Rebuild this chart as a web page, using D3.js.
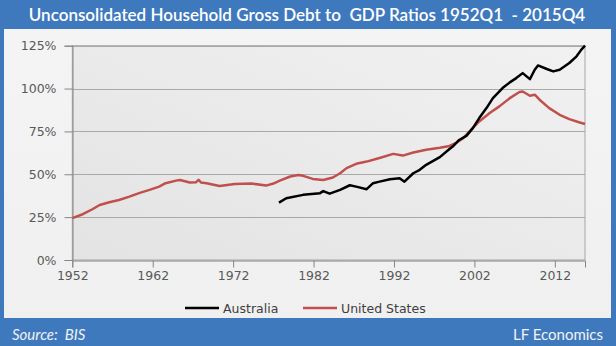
<!DOCTYPE html>
<html>
<head>
<meta charset="utf-8">
<script src="https://cdn.jsdelivr.net/npm/d3@7"></script>
<style>
  html, body { margin: 0; padding: 0; background: #3f79bd; }
  svg { display: block; }
</style>
</head>
<body>
<svg id="chart" width="616" height="346"></svg>
<script>
// Household debt to GDP, % (decimal years)
const usYears = [1952.0, 1953.3, 1954.5, 1955.4, 1956.6, 1957.8, 1959.1, 1960.3, 1961.6, 1962.8,
  1963.6, 1964.9, 1965.4, 1966.6, 1967.4, 1967.7, 1968.0, 1968.7, 1970.3, 1972.2,
  1974.3, 1976.1, 1977.0, 1977.8, 1979.1, 1980.1, 1980.7, 1981.9, 1983.2, 1984.4,
  1985.3, 1986.1, 1987.3, 1988.6, 1990.2, 1991.9, 1993.1, 1994.4, 1996.0, 1997.7,
  1998.9, 1999.8, 2000.6, 2001.4, 2002.6, 2003.9, 2005.1, 2006.4, 2007.6, 2008.0,
  2008.9, 2009.5, 2010.1, 2011.3, 2012.6, 2013.8, 2015.1, 2015.75];
const usValues = [24.4, 26.7, 29.6, 32.1, 33.7, 35.0, 37.0, 39.0, 40.9, 42.8,
  44.8, 46.3, 46.7, 45.2, 45.4, 46.8, 45.2, 44.8, 43.2, 44.3,
  44.6, 43.4, 44.6, 46.3, 48.7, 49.6, 49.1, 47.3, 46.7, 48.1,
  50.6, 53.6, 56.1, 57.4, 59.5, 61.9, 60.9, 62.7, 64.3, 65.5,
  66.5, 68.5, 71.1, 75.0, 80.8, 85.7, 89.6, 94.4, 98.0, 98.3,
  95.8, 96.4, 93.5, 88.6, 84.7, 82.2, 80.2, 79.3];

const auYears = [1977.7, 1978.6, 1980.7, 1982.8, 1983.2, 1984.0, 1985.3, 1986.5, 1987.3, 1988.6,
  1989.4, 1990.2, 1991.5, 1992.7, 1993.3, 1994.4, 1995.2, 1996.0, 1997.7, 1998.9,
  1999.3, 2000.1, 2001.0, 2001.8, 2002.6, 2003.5, 2004.3, 2005.5, 2006.4, 2007.2,
  2008.0, 2008.9, 2009.5, 2009.9, 2011.0, 2011.8, 2012.6, 2013.8, 2014.7, 2015.3, 2015.75];
const auValues = [33.5, 36.0, 38.0, 39.0, 40.2, 38.7, 40.9, 43.6, 42.8, 41.3,
  44.8, 45.7, 47.1, 47.7, 45.7, 50.6, 52.6, 55.5, 60.0, 64.7,
  66.2, 70.0, 72.4, 76.9, 82.8, 88.6, 94.4, 100.3, 103.6, 106.1,
  109.0, 105.5, 111.0, 113.5, 111.4, 110.0, 111.0, 114.9, 118.8, 122.7, 125.0];

const seriesNames = ["Australia", "United States"];
const seriesColors = ["#000000", "#c0504d"];
const yTicks = [0, 25, 50, 75, 100, 125];
const xTicks = [1952, 1962, 1972, 1982, 1992, 2002, 2012];
const titleText = "Unconsolidated Household Gross Debt to  GDP Ratios 1952Q1  - 2015Q4";
const sourceText = "Source:  BIS";
const creditText = "LF Economics";

const svg = d3.select("#chart");
const W = 616, H = 346;
const plot = { left: 72.3, right: 585, top: 45.7, bottom: 260 };

const defs = svg.append("defs");
const pg = defs.append("linearGradient").attr("id", "panelGrad")
  .attr("x1", 0).attr("y1", 0).attr("x2", 0).attr("y2", 1);
pg.append("stop").attr("offset", "0%").attr("stop-color", "#f4f4f4");
pg.append("stop").attr("offset", "100%").attr("stop-color", "#f0f0f0");
const ag = defs.append("linearGradient").attr("id", "plotGrad")
  .attr("x1", 1).attr("y1", 0).attr("x2", 0).attr("y2", 1);
ag.append("stop").attr("offset", "0%").attr("stop-color", "#f1f1f1");
ag.append("stop").attr("offset", "100%").attr("stop-color", "#e3e3e3");

// frame
svg.append("rect").attr("width", W).attr("height", H).attr("fill", "#3f79bd");
svg.append("rect").attr("x", 4).attr("y", 29).attr("width", 607).attr("height", 289)
  .attr("fill", "url(#panelGrad)");

// title, sized so it spans the header
const title = svg.append("text").attr("x", 307).attr("y", 21).attr("text-anchor", "middle")
  .attr("fill", "#ffffff").attr("font-family", "Lato, 'Open Sans', sans-serif")
  .attr("font-size", 20).attr("font-weight", 600)
  .style("white-space", "pre").text(titleText);
const natural = title.node().getComputedTextLength();
title.attr("font-size", Math.min(21, 20 * 557 / natural));

const x = d3.scaleLinear().domain([1952, 2015.75]).range([plot.left, plot.right]);
const y = d3.scaleLinear().domain([0, 125]).range([plot.bottom, plot.top]);

// plot area
svg.append("rect").attr("x", plot.left).attr("y", plot.top)
  .attr("width", plot.right - plot.left).attr("height", plot.bottom - plot.top)
  .attr("fill", "url(#plotGrad)").attr("stroke", "#a6a6a6").attr("stroke-width", 1);

// gridlines
svg.append("g").selectAll("line").data(yTicks.filter(d => d > 0)).join("line")
  .attr("x1", plot.left).attr("x2", plot.right)
  .attr("y1", d => Math.round(y(d)) + 0.5).attr("y2", d => Math.round(y(d)) + 0.5)
  .attr("stroke", "#a9a9a9").attr("stroke-width", 1);

const fontAxis = "'DejaVu Sans', Verdana, sans-serif";

// y axis
const yAxis = svg.append("g").attr("transform", `translate(${Math.round(plot.left) + 0.5},0)`)
  .call(d3.axisLeft(y).tickValues(yTicks).tickFormat(d => d + "%").tickSize(8).tickPadding(8));
yAxis.select(".domain").attr("stroke", "#868686");
yAxis.selectAll(".tick line").attr("stroke", "#868686");
yAxis.selectAll("text").attr("font-family", fontAxis).attr("font-size", 12.5).attr("fill", "#595959");

// x axis
const xAxis = svg.append("g").attr("transform", `translate(0,${Math.round(plot.bottom) + 0.5})`)
  .call(d3.axisBottom(x).tickValues(xTicks).tickFormat(d3.format("d")).tickSize(7).tickPadding(4));
xAxis.select(".domain").attr("stroke", "#868686");
xAxis.selectAll(".tick line").attr("stroke", "#868686");
xAxis.selectAll("text").attr("font-family", fontAxis).attr("font-size", 12.5).attr("fill", "#595959");

// lines
const line = d3.line().x(d => x(d[0])).y(d => y(d[1]));
const usData = d3.zip(usYears, usValues);
const auData = d3.zip(auYears, auValues);
svg.append("path").datum(usData).attr("d", line).attr("fill", "none")
  .attr("stroke", seriesColors[1]).attr("stroke-width", 2.5).attr("stroke-linejoin", "round");
svg.append("path").datum(auData).attr("d", line).attr("fill", "none")
  .attr("stroke", seriesColors[0]).attr("stroke-width", 2.5).attr("stroke-linejoin", "round");

// legend
const legend = svg.append("g").attr("font-family", fontAxis).attr("font-size", 12.5).attr("fill", "#404040");
const legendX = [185, 303];
seriesNames.forEach((name, i) => {
  legend.append("line").attr("x1", legendX[i]).attr("x2", legendX[i] + 34)
    .attr("y1", 308).attr("y2", 308).attr("stroke", seriesColors[i]).attr("stroke-width", 2.5);
  legend.append("text").attr("x", legendX[i] + 38).attr("y", 312.5).text(name);
});

// footer
svg.append("text").attr("x", 12).attr("y", 340).attr("fill", "#f2f2f2")
  .attr("font-family", "Lato, 'Open Sans', sans-serif").attr("font-size", 15).attr("font-style", "italic")
  .style("white-space", "pre").text(sourceText);
svg.append("text").attr("x", 603).attr("y", 340).attr("text-anchor", "end").attr("fill", "#f2f2f2")
  .attr("font-family", "Lato, 'Open Sans', sans-serif").attr("font-size", 15)
  .text(creditText);
</script>
</body>
</html>
